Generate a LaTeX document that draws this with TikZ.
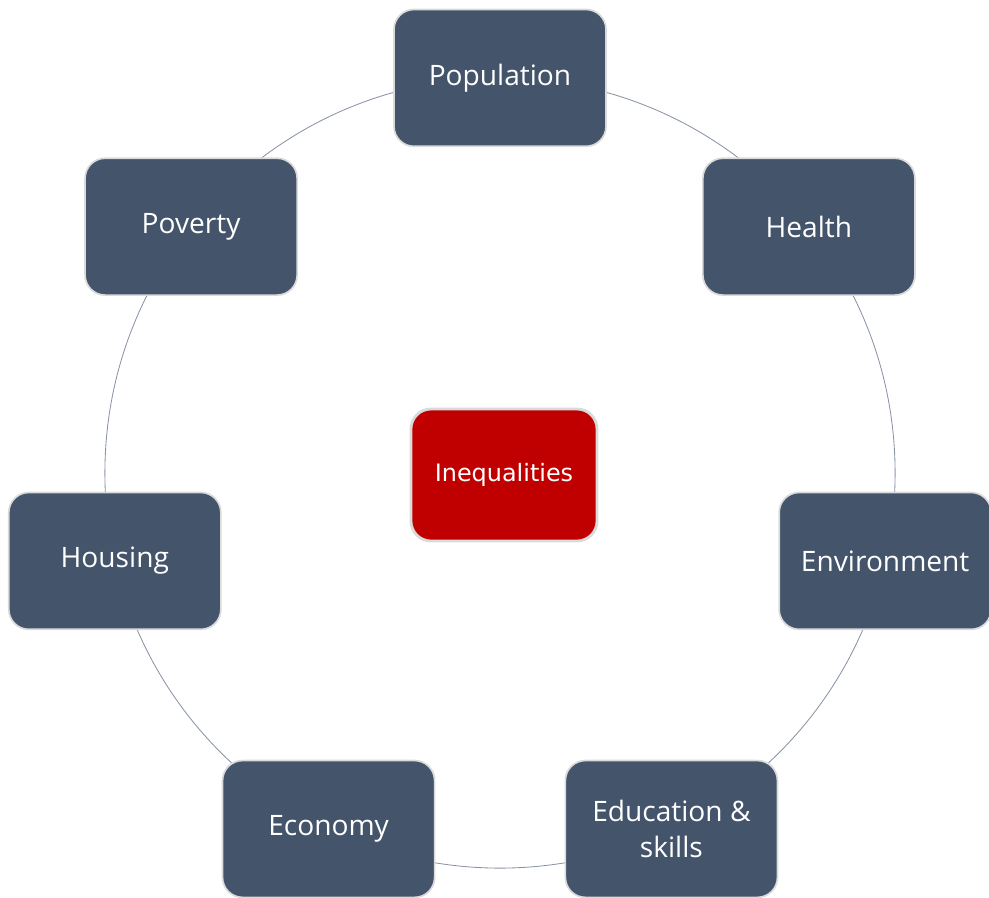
\documentclass[tikz,border=0pt]{standalone}
\usepackage{fontspec}
\newfontfamily\topicfont{Open Sans}
\newfontfamily\hubfont{DejaVu Sans}
\usetikzlibrary{calc}
\definecolor{slate}{HTML}{44546A}
\definecolor{hubred}{HTML}{C00000}
\definecolor{ringgray}{HTML}{8A94A6}
\definecolor{edgegray}{HTML}{DADADA}
\begin{document}
\begin{tikzpicture}[x=0.025cm,y=-0.025cm]
			\tikzset{topic/.style={draw=edgegray,line width=1.2pt,fill=slate,text=white,
					rounded corners=0.5cm,minimum width=5.3cm,minimum height=3.42cm,
					align=center,font=\topicfont\fontsize{20}{25}\selectfont},
				hub/.style={draw=edgegray,line width=2pt,fill=hubred,text=white,
					rounded corners=0.5cm,minimum width=4.65cm,minimum height=3.3cm,
					font=\hubfont\fontsize{17}{20}\selectfont},
				ring/.style={draw=ringgray,line width=0.6pt}
			}
			\useasboundingbox (0,0) rectangle (989,897);
			\coordinate (c) at (500,473);
			\draw[ring] (c) circle (9.875cm);
			\foreach \name/\txt [count=\i from 0] in {pop/Population,hea/Health,env/Environment,
				edu/{Education \&\\skills},eco/Economy,hou/Housing,pov/Poverty}
			\node[topic] (\name) at ($(c)+({90-\i*360/7}:9.875cm)$) {\txt};
			\node[hub] (ineq) at (504,475) {Inequalities};
		\end{tikzpicture}
\end{document}
